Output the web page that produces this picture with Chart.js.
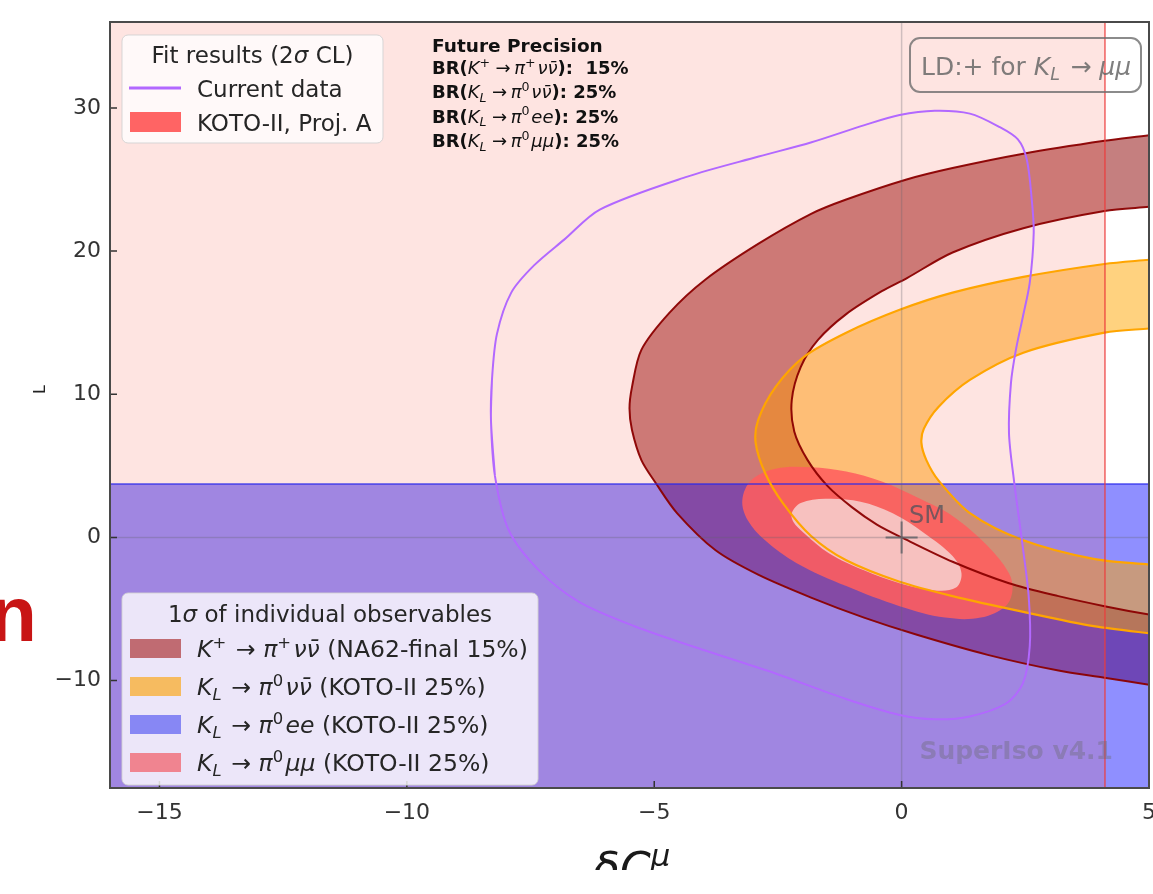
<!DOCTYPE html>
<html>
<head>
<meta charset="utf-8">
<title>Kaon decay constraints</title>
<script src="https://cdn.jsdelivr.net/npm/chart.js@4.4.1/dist/chart.umd.min.js"></script>
<style>
  html, body { margin: 0; padding: 0; background: #ffffff; }
  canvas { display: block; }
</style>
</head>
<body>
<canvas id="chart" width="1153" height="894" style="width:1153px;height:894px"></canvas>
<script>
// ---- axes ----
const xRange = [-16, 5];
const yRange = [-17.5, 36];
const xTicks = [-15, -10, -5, 0, 5];
const yTicks = [-10, 0, 10, 20, 30];

// ---- 1 sigma band of K+ -> pi+ nu nubar (NA62-final 15%): outer and inner edges ----
const kPlusOuter = [[5.6,28.4],[5.02,28.1],[4.10,27.7],[2.46,26.8],[1.03,25.8],[0.10,25.0],[-1.12,23.6],[-1.83,22.6],[-2.90,20.5],[-3.97,18.0],[-4.69,15.7],[-5.26,13.1],[-5.45,10.5],[-5.50,9.0],[-5.45,7.5],[-5.26,5.4],[-4.97,3.8],[-4.54,1.7],[-3.76,-0.9],[-2.90,-2.6],[-1.83,-4.2],[-0.76,-5.6],[0.31,-6.8],[1.74,-8.2],[3.17,-9.3],[4.10,-9.8],[5.02,-10.3],[5.6,-10.6]];
const kPlusInner = [[5.6,23.3],[5.02,23.1],[4.10,22.8],[2.46,21.6],[1.03,19.9],[0.10,18.1],[-0.40,17.2],[-1.12,15.6],[-1.69,13.8],[-2.04,11.9],[-2.22,9.6],[-2.17,7.4],[-1.90,5.4],[-1.50,3.6],[-1.00,2.1],[-0.50,0.9],[0.0,0.0],[1.03,-1.7],[2.17,-3.2],[3.17,-4.1],[4.10,-4.8],[5.02,-5.4],[5.6,-5.7]];

// ---- 1 sigma band of K_L -> pi0 nu nubar (KOTO-II 25%) ----
const klnnOuter = [[5.6,19.6],[5.02,19.4],[4.10,19.1],[2.46,18.2],[1.03,17.1],[-0.04,15.9],[-1.12,14.3],[-1.98,12.6],[-2.55,10.5],[-2.90,8.2],[-2.95,6.6],[-2.76,4.5],[-2.40,2.4],[-1.83,0.1],[-1.12,-1.6],[-0.04,-3.1],[1.03,-4.1],[2.46,-5.2],[3.88,-6.2],[5.02,-6.7],[5.6,-6.9]];
const klnnInner = [[5.6,14.8],[5.02,14.6],[4.10,14.3],[2.46,12.9],[1.38,11.0],[0.74,9.1],[0.45,7.6],[0.40,6.6],[0.50,5.4],[0.74,4.0],[1.38,1.7],[2.46,-0.2],[3.88,-1.5],[5.02,-1.9],[5.6,-2.1]];

// ---- K_L -> pi0 e e band lies below this value; K_L -> pi0 mu mu band lies left of this value ----
const kleeUpperY = 3.74;
const klmmUpperX = 4.11;

// ---- KOTO-II projection A fit region (2 sigma and 1 sigma), closed outlines ----
const kotoOuter = [[-3.22,2.6],[-3.04,4.0],[-2.55,4.8],[-1.83,4.9],[-1.12,4.6],[-0.40,3.9],[0.31,2.8],[1.03,1.5],[1.74,-0.6],[2.17,-2.5],[2.24,-3.7],[2.10,-4.8],[1.60,-5.6],[0.88,-5.6],[-0.04,-4.8],[-1.12,-3.4],[-2.12,-1.8],[-2.76,-0.2],[-3.11,1.2],[-3.22,2.6]];
const kotoInner = [[-2.22,1.7],[-2.04,2.4],[-1.54,2.7],[-0.83,2.5],[-0.19,1.7],[0.46,0.3],[1.03,-1.3],[1.21,-2.5],[1.10,-3.5],[0.67,-3.7],[-0.04,-3.2],[-0.76,-2.3],[-1.47,-1.1],[-1.97,0.3],[-2.19,1.1],[-2.22,1.7]];

// ---- current data fit contour (2 sigma), closed outline ----
const currentData = [[-8.30,8.2],[-8.28,11.0],[-8.18,14.2],[-7.89,17.1],[-7.43,19.0],[-6.82,20.8],[-6.10,22.9],[-4.33,25.2],[-2.89,26.6],[-1.82,27.6],[-0.75,28.8],[-0.04,29.5],[0.67,29.8],[1.38,29.6],[1.96,28.7],[2.35,27.8],[2.53,26.4],[2.63,23.6],[2.67,21.3],[2.59,17.8],[2.45,15.4],[2.31,13.1],[2.21,10.8],[2.17,7.3],[2.27,4.0],[2.45,-0.7],[2.57,-4.2],[2.59,-7.6],[2.45,-10.2],[2.11,-11.6],[1.38,-12.5],[0.67,-12.7],[-0.04,-12.4],[-1.11,-11.3],[-2.55,-9.5],[-3.97,-7.9],[-5.40,-6.2],[-6.52,-4.5],[-7.33,-2.3],[-7.94,0.5],[-8.22,4.3],[-8.30,8.2]];

// ---- Standard Model point and its label ----
const smPoint = [0, 0];
const smLabel = { x: 0.15, y: 1.0, text: 'SM' };

// ---- texts ----
const fitLegendTitle = [['Fit results (2'], ['σ', 'i'], [' CL)']];
const fitLegendLabels = ['Current data', 'KOTO-II, Proj. A'];
const obsLegendTitle = [['1'], ['σ', 'i'], [' of individual observables']];
const obsLegendLabels = [
  [['K', 'i'], ['+', '^'], [' → '], ['π', 'i'], ['+', '^'], ['νν̄', 'i'], [' (NA62-final 15%)']],
  [['K', 'i'], ['L', '_i'], [' → '], ['π', 'i'], ['0', '^'], ['νν̄', 'i'], [' (KOTO-II 25%)']],
  [['K', 'i'], ['L', '_i'], [' → '], ['π', 'i'], ['0', '^'], ['ee', 'i'], [' (KOTO-II 25%)']],
  [['K', 'i'], ['L', '_i'], [' → '], ['π', 'i'], ['0', '^'], ['μμ', 'i'], [' (KOTO-II 25%)']]
];
const precisionTitle = 'Future Precision';
const precisionLines = [
  [['BR(', 'b'], ['K', 'i'], ['+', '^'], ['\u2009→\u2009'], ['π', 'i'], ['+', '^'], ['νν̄', 'i'], ['):  15%', 'b']],
  [['BR(', 'b'], ['K', 'i'], ['L', '_i'], ['\u2009→\u2009'], ['π', 'i'], ['0', '^'], ['νν̄', 'i'], ['): 25%', 'b']],
  [['BR(', 'b'], ['K', 'i'], ['L', '_i'], ['\u2009→\u2009'], ['π', 'i'], ['0', '^'], ['ee', 'i'], ['): 25%', 'b']],
  [['BR(', 'b'], ['K', 'i'], ['L', '_i'], ['\u2009→\u2009'], ['π', 'i'], ['0', '^'], ['μμ', 'i'], ['): 25%', 'b']]
];
const ldNote = [['LD:+ for '], ['K', 'i'], ['L', '_i'], [' → '], ['μμ', 'i']];
const watermark = 'SuperIso v4.1';
const xTitle = [['δC', 'i'], ['μ', '^i']];

// ---- colours ----
const col = {
  kPlusFill: 'rgba(139,0,0,0.5)', kPlusEdge: 'rgba(139,0,0,0.95)',
  klnnFill: 'rgba(255,165,0,0.5)', klnnEdge: 'rgba(255,165,0,1)',
  kleeFill: 'rgba(0,0,255,0.44)', kleeEdge: 'rgba(40,40,235,0.6)',
  klmmFill: 'rgba(250,90,70,0.16)', klmmEdge: 'rgba(235,60,60,0.8)',
  koto2s: 'rgba(255,95,95,0.88)', koto1s: 'rgba(247,196,194,0.97)',
  current: 'rgb(178,104,255)', zero: 'rgba(100,100,110,0.3)', sm: 'rgba(100,100,105,0.85)'
};
const legendPatch = ['#c06b72', '#f6bb60', '#8787f4', '#f08490'];

const FONT = '"DejaVu Sans", "Noto Sans", sans-serif';
const toXY = arr => arr.map(([x, y]) => ({ x, y }));
const far = { x0: xRange[0] - 1, x1: xRange[1] + 1, y0: yRange[0] - 1, y1: yRange[1] + 1 };
// closed outlines get one extra point on each end so the spline runs smoothly through the seam
const wrap = pts => [pts[pts.length - 2]].concat(pts, [pts[1]]);

function region(points, fill, edge, width, order, tension) {
  return {
    data: toXY(points), fill: 'shape', backgroundColor: fill,
    borderColor: edge || 'rgba(0,0,0,0)', borderWidth: width || 0,
    pointRadius: 0, tension: tension, order: order
  };
}
function curve(points, color, width, order, tension) {
  return {
    data: toXY(points), fill: false, borderColor: color, borderWidth: width,
    pointRadius: 0, tension: tension, order: order
  };
}

const kPlusBand = kPlusOuter.concat(kPlusInner.slice().reverse());
const klnnBand = klnnOuter.concat(klnnInner.slice().reverse());
const kleeBand = [[far.x0, far.y0], [far.x1, far.y0], [far.x1, kleeUpperY], [far.x0, kleeUpperY], [far.x0, far.y0]];
const klmmBand = [[far.x0, far.y1], [klmmUpperX, far.y1], [klmmUpperX, far.y0], [far.x0, far.y0], [far.x0, far.y1]];

// larger order = painted further below
const datasets = [
  region(kPlusBand, col.kPlusFill, col.kPlusEdge, 2, 30, 0.3),
  region(kleeBand, col.kleeFill, col.kleeEdge, 2, 29, 0),
  region(klnnBand, col.klnnFill, col.klnnEdge, 2.2, 28, 0.3),
  region(klmmBand, col.klmmFill, col.klmmEdge, 1.5, 27, 0),
  region(wrap(kotoOuter), col.koto2s, null, 0, 26, 0.35),
  region(wrap(kotoInner), col.koto1s, null, 0, 25, 0.35),
  curve([[far.x0, 0], [far.x1, 0]], col.zero, 1.5, 20, 0),
  curve([[0, far.y0], [0, far.y1]], col.zero, 1.5, 19, 0),
  curve(wrap(currentData), col.current, 2, 10, 0.3),
  {
    data: toXY([smPoint]), showLine: false, pointStyle: 'cross', pointRadius: 16,
    pointBorderWidth: 2, pointBorderColor: col.sm, order: 5
  }
];

// Draws a run of text pieces; style flags: i italic, b bold, ^ superscript, _ subscript
function rich(ctx, pieces, x, y, size, draw) {
  let cx = x;
  for (const [t, st = ''] of pieces) {
    const small = st.includes('^') || st.includes('_');
    const fs = small ? size * 0.7 : size;
    ctx.font = (st.includes('i') ? 'italic ' : '') + (st.includes('b') ? 'bold ' : '') + fs + 'px ' + FONT;
    const dy = st.includes('^') ? -size * 0.4 : (st.includes('_') ? size * 0.2 : 0);
    if (draw !== false) ctx.fillText(t, cx, y + dy);
    cx += ctx.measureText(t).width + (small ? size * 0.1 : 0);
  }
  return cx - x;
}

function roundBox(ctx, x, y, w, h, r) {
  ctx.beginPath();
  ctx.roundRect(x, y, w, h, r);
}

const decorations = {
  id: 'decorations',
  afterDraw(chart) {
    const { ctx, chartArea: a, scales: { x, y } } = chart;
    ctx.save();
    ctx.textAlign = 'left';
    ctx.textBaseline = 'alphabetic';

    // inward tick marks
    ctx.strokeStyle = '#333';
    ctx.lineWidth = 1.5;
    ctx.beginPath();
    xTicks.forEach(v => { const px = x.getPixelForValue(v); ctx.moveTo(px, a.bottom); ctx.lineTo(px, a.bottom - 7); });
    yTicks.forEach(v => { const py = y.getPixelForValue(v); ctx.moveTo(a.left, py); ctx.lineTo(a.left + 7, py); });
    ctx.stroke();

    // axes frame
    ctx.strokeStyle = '#4a4a4a';
    ctx.lineWidth = 2;
    ctx.strokeRect(a.left, a.top, a.right - a.left, a.bottom - a.top);

    // SM label
    ctx.fillStyle = 'rgba(70,80,92,0.72)';
    ctx.font = '24px ' + FONT;
    ctx.fillText(smLabel.text, x.getPixelForValue(smLabel.x), y.getPixelForValue(smLabel.y));

    // watermark
    ctx.fillStyle = 'rgba(105,105,110,0.38)';
    ctx.font = 'bold 25px ' + FONT;
    ctx.fillText(watermark, a.left + 0.779 * (a.right - a.left), a.top + 0.962 * (a.bottom - a.top));

    // long-distance sign note
    ctx.strokeStyle = 'rgba(110,110,110,0.8)';
    ctx.lineWidth = 2;
    roundBox(ctx, 910, 38, 231, 54, 10);
    ctx.stroke();
    ctx.fillStyle = 'rgba(105,105,105,0.85)';
    rich(ctx, ldNote, 921, 75, 25);

    // projected precisions
    ctx.fillStyle = '#111';
    ctx.font = 'bold 18.5px ' + FONT;
    ctx.fillText(precisionTitle, 432, 52);
    precisionLines.forEach((ln, i) => rich(ctx, ln, 432, 74 + i * 24.3, 18));

    // fit results legend
    ctx.fillStyle = 'rgba(255,255,255,0.8)';
    ctx.strokeStyle = 'rgba(210,210,210,0.9)';
    ctx.lineWidth = 1;
    roundBox(ctx, 122, 35, 261, 108, 6);
    ctx.fill(); ctx.stroke();
    ctx.fillStyle = '#262626';
    const t1 = rich(ctx, fitLegendTitle, 0, 0, 23, false);
    rich(ctx, fitLegendTitle, 252.5 - t1 / 2, 63, 23);
    ctx.strokeStyle = col.current;
    ctx.lineWidth = 3;
    ctx.beginPath(); ctx.moveTo(129, 88); ctx.lineTo(181, 88); ctx.stroke();
    ctx.fillStyle = '#ff6464';
    ctx.fillRect(130, 112, 51, 20);
    ctx.fillStyle = '#262626';
    ctx.font = '23px ' + FONT;
    ctx.fillText(fitLegendLabels[0], 197, 97);
    ctx.fillText(fitLegendLabels[1], 197, 131);

    // individual observables legend
    ctx.fillStyle = 'rgba(255,255,255,0.8)';
    ctx.strokeStyle = 'rgba(210,210,210,0.9)';
    ctx.lineWidth = 1;
    roundBox(ctx, 122, 593, 416, 192, 6);
    ctx.fill(); ctx.stroke();
    ctx.fillStyle = '#262626';
    const t2 = rich(ctx, obsLegendTitle, 0, 0, 23, false);
    rich(ctx, obsLegendTitle, 330 - t2 / 2, 622, 23);
    obsLegendLabels.forEach((lab, i) => {
      const top = 639 + i * 38;
      ctx.fillStyle = legendPatch[i];
      ctx.fillRect(130, top, 51, 19);
      ctx.fillStyle = '#262626';
      rich(ctx, lab, 197, top + 18, 23.5);
    });

    // axis title (lower part falls outside the picture)
    ctx.save();
    ctx.beginPath(); ctx.rect(0, 0, chart.width, 870); ctx.clip();
    ctx.fillStyle = '#1a1a1a';
    rich(ctx, xTitle, 593, 884, 44);
    ctx.restore();

    // rotated y-axis title fragment
    ctx.save();
    ctx.translate(45, 393);
    ctx.rotate(-Math.PI / 2);
    ctx.fillStyle = '#222';
    ctx.font = '16px ' + FONT;
    ctx.fillText('L', -1, 0);
    ctx.restore();

    // neighbouring slide heading fragment
    ctx.fillStyle = '#c81515';
    ctx.font = 'bold 78px "Liberation Sans", Arial, sans-serif';
    ctx.textAlign = 'right';
    ctx.fillText('n', 37, 641);

    ctx.restore();
  }
};

const tickFmt = v => (v < 0 ? '\u2212' + Math.abs(v) : String(v));

new Chart(document.getElementById('chart'), {
  type: 'line',
  data: { datasets },
  options: {
    responsive: false,
    animation: false,
    events: [],
    layout: { autoPadding: false, padding: { top: 22, right: 4, bottom: 0, left: 0 } },
    elements: { line: { capBezierPoints: false }, point: { radius: 0 } },
    plugins: {
      legend: { display: false },
      tooltip: { enabled: false },
      filler: { drawTime: 'beforeDatasetsDraw', propagate: false }
    },
    scales: {
      x: {
        type: 'linear', min: xRange[0], max: xRange[1],
        grid: { display: false, drawTicks: false }, border: { display: false },
        ticks: { font: { family: FONT, size: 22 }, color: '#333', padding: 12, maxRotation: 0, autoSkip: false, callback: tickFmt },
        afterBuildTicks: s => { s.ticks = xTicks.map(v => ({ value: v })); },
        afterFit: s => { s.height = 106; s.paddingLeft = 0; s.paddingRight = 0; }
      },
      y: {
        type: 'linear', min: yRange[0], max: yRange[1],
        grid: { display: false, drawTicks: false }, border: { display: false },
        ticks: { font: { family: FONT, size: 22 }, color: '#333', padding: 9, autoSkip: false, callback: tickFmt },
        afterBuildTicks: s => { s.ticks = yTicks.map(v => ({ value: v })); },
        afterFit: s => { s.width = 110; s.paddingTop = 0; s.paddingBottom = 0; }
      }
    }
  },
  plugins: [decorations]
});
</script>
</body>
</html>
